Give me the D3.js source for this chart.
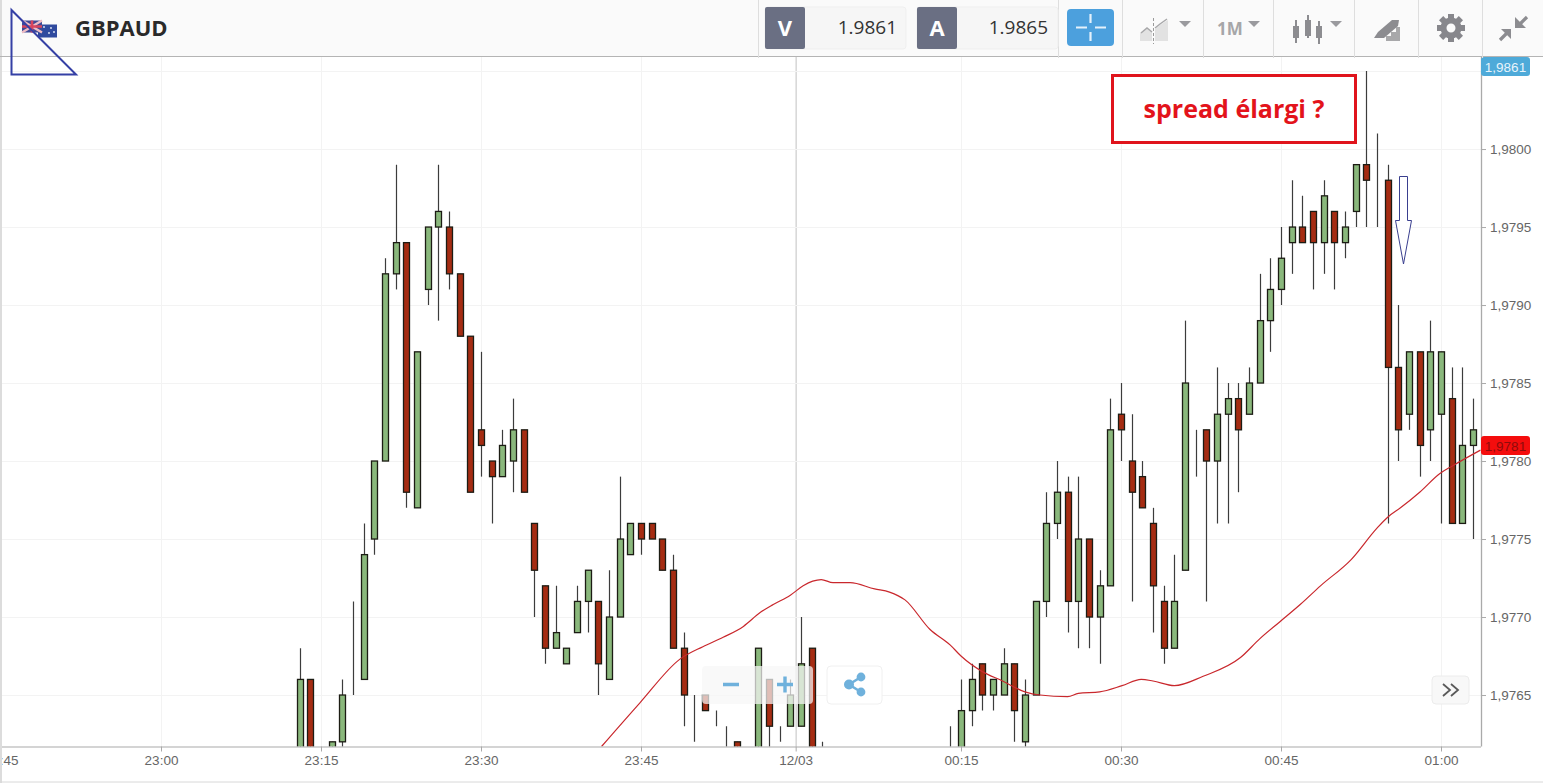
<!DOCTYPE html>
<html><head><meta charset="utf-8">
<script src="https://cdnjs.cloudflare.com/ajax/libs/d3/7.8.5/d3.min.js"></script>
<style>
html,body{margin:0;padding:0;background:#fff;overflow:hidden}
svg{display:block}
text{font-family:"Liberation Sans",Arial,sans-serif}
.os{font-family:"Open Sans",sans-serif}
</style></head><body>
<svg id="c" width="1543" height="783"></svg>
<script>
// Minutes after 23:00; prices in points: 9766 means 1.9766
const candleMinutes=[13,14,16,17,18,19,20,21,22,23,24,25,26,27,28,29,30,31,32,33,34,35,36,37,38,39,40,41,42,43,44,45,46,47,48,49,50,51,52,53,54,56,57,58,59,60,61,62,
74,75,76,77,78,79,80,81,82,83,84,85,86,87,88,89,90,91,92,93,94,95,96,97,98,99,100,101,102,103,104,105,106,107,108,109,110,111,112,113,114,115,116,117,118,119,120,121,122,123];
const candleOpen=[9760,9766,9760,9762,9766,9766,9775,9780,9792,9794,9777,9791,9795,9795,9792,9788,9782,9780,9779,9780,9782,9776,9772,9768,9767,9769,9771,9771,9766,9770,9774,9776,9776,9775,9773,9768,9765,9765,9763,9763,9762,9760,9766,9763,9763,9763,9768,9760,
9760,9760,9764,9767,9765,9765,9767,9762,9765,9771,9776,9778,9771,9775,9770,9772,9783,9780,9779,9776,9771,9768,9773,9782,9782,9780,9783,9784,9783,9785,9789,9791,9794,9795,9796,9794,9796,9794,9796,9799,9798,9798,9786,9783,9787,9782,9783,9784,9776,9781];
const candleClose=[9766,9760,9762,9765,9766,9774,9780,9792,9794,9778,9787,9795,9796,9792,9788,9778,9781,9779,9781,9782,9778,9773,9768,9769,9768,9771,9773,9767,9770,9775,9776,9775,9775,9773,9768,9765,9765,9764,9763,9763,9760,9768,9763,9763,9765,9767,9760,9760,
9760,9764,9766,9765,9766,9767,9764,9765,9771,9776,9778,9771,9775,9770,9772,9782,9782,9778,9777,9772,9768,9771,9785,9782,9780,9783,9784,9782,9785,9789,9791,9793,9795,9794,9794,9797,9794,9795,9799,9798,9798,9786,9782,9787,9781,9787,9787,9776,9781,9782];
const candleHigh=[9768,9766,9762,9766,9771,9776,9780,9793,9799,9794,9787,9795,9799,9796,9792,9788,9787,9780,9782,9784,9782,9776,9772,9772,9768,9772,9773,9771,9773,9779,9776,9776,9776,9775,9774,9769,9765,9765,9764,9763,9762,9768,9766,9763,9766,9770,9768,9762,
9763,9766,9767,9767,9766,9768,9767,9766,9771,9778,9780,9779,9779,9775,9773,9784,9785,9783,9780,9777,9772,9774,9789,9782,9782,9786,9785,9785,9786,9792,9793,9795,9798,9797,9796,9798,9796,9796,9799,9805,9801,9799,9790,9787,9787,9789,9787,9786,9786,9784];
const candleLow=[9760,9760,9760,9761,9765,9766,9774,9780,9791,9777,9777,9790,9789,9791,9788,9778,9779,9776,9779,9778,9778,9770,9767,9768,9767,9769,9769,9765,9766,9770,9774,9774,9775,9773,9768,9763,9762,9764,9763,9760,9760,9760,9760,9762,9763,9763,9760,9760,
9760,9760,9763,9764,9764,9765,9762,9760,9765,9770,9775,9769,9768,9768,9767,9772,9780,9771,9777,9769,9767,9768,9773,9779,9771,9776,9776,9778,9783,9785,9787,9790,9792,9794,9791,9792,9791,9793,9795,9795,9795,9776,9780,9782,9779,9780,9776,9776,9776,9775];
// Moving average
const maMinutes=[41.3,44.9,48.65,50.8,52.7,54.6,56.2,57.4,59,60.2,61.1,61.9,63,64.6,66.9,68.3,69.75,72.1,74,75,77,78.9,81,82.4,85,86,88,90.1,91.9,93,95,97.7,101.2,103,104.9,106.8,108.7,111.6,114,115,116.2,118,119.9,121.1,123.7];
const maValues=[1.97617,1.97645,1.97673,1.97681,1.97687,1.97694,1.97703,1.97708,1.97714,1.9772,1.97723,1.97724,1.97722,1.97722,1.97718,1.97716,1.97711,1.97692,1.97682,1.97675,1.97665,1.97659,1.97652,1.9765,1.97649,1.97651,1.97652,1.97656,1.9766,1.97659,1.97656,1.97662,1.97674,1.97686,1.97697,1.97708,1.9772,1.97737,1.97757,1.97764,1.9777,1.9778,1.97792,1.97797,1.97807];
const timeTicks=[-15,0,15,30,45,59.5,75,90,105,120];
const timeLabels=["22:45","23:00","23:15","23:30","23:45","12/03","00:15","00:30","00:45","01:00"];
const priceTicks=[1.9765,1.977,1.9775,1.978,1.9785,1.979,1.9795,1.98];
const priceGrid=[1.9765,1.977,1.9775,1.978,1.9785,1.979,1.9795,1.98,1.9805];
const instrument="GBPAUD", bid="1.9861", ask="1.9865", lastTag=1.9781;
const note="spread élargi ?";

const svg=d3.select("#c");
const W=1543,H=783,plotTop=57,plotBottom=746.5,plotRight=1481;
const x=d3.scaleLinear().domain([-15,120]).range([1,1441]);
const y=d3.scaleLinear().domain([1.97617,1.98059]).range([plotBottom,plotTop]);
const pr=v=>1+v/10000;

svg.append("rect").attr("width",W).attr("height",H).attr("fill","#fff");
svg.append("defs").append("clipPath").attr("id","plot").append("rect")
  .attr("x",0).attr("y",plotTop).attr("width",plotRight).attr("height",plotBottom-plotTop);

// grid
const grid=svg.append("g");
grid.selectAll("line.v").data(timeTicks).join("line").attr("class","v")
  .attr("x1",d=>x(d)+.5).attr("x2",d=>x(d)+.5).attr("y1",plotTop).attr("y2",plotBottom)
  .attr("stroke",d=>d===59.5?"#d6d6d6":"#f3f3f3").attr("stroke-width",d=>d===59.5?1.5:1);
grid.selectAll("line.h").data(priceGrid).join("line").attr("class","h")
  .attr("x1",0).attr("x2",plotRight).attr("y1",d=>Math.round(y(d))+.5).attr("y2",d=>Math.round(y(d))+.5)
  .attr("stroke","#f3f3f3");

// candles
const candles=candleMinutes.map((m,i)=>({m,o:pr(candleOpen[i]),c:pr(candleClose[i]),h:pr(candleHigh[i]),l:pr(candleLow[i])}));
const plot=svg.append("g").attr("clip-path","url(#plot)");
const px=d=>Math.round(x(d.m));
plot.selectAll("line.w").data(candles).join("line").attr("class","w")
  .attr("x1",d=>px(d)+.5).attr("x2",d=>px(d)+.5).attr("y1",d=>y(d.h)).attr("y2",d=>y(d.l))
  .attr("stroke","#3c3c3c").attr("stroke-width",1.2);
plot.selectAll("rect.b").data(candles).join("rect").attr("class","b")
  .attr("x",d=>px(d)-2.5).attr("width",6)
  .attr("y",d=>y(Math.max(d.o,d.c))).attr("height",d=>Math.abs(y(d.o)-y(d.c)))
  .attr("fill",d=>d.c>=d.o?"#8ab87c":"#a52c12").attr("stroke",d=>d.c===d.o?"#555":"#1c1c14").attr("stroke-width",1.3);
// moving average
plot.append("path").datum(maMinutes.map((m,i)=>[m,maValues[i]]))
  .attr("fill","none").attr("stroke","#c9282d").attr("stroke-width",1.2)
  .attr("d",d3.line().x(d=>x(d[0])).y(d=>y(d[1])).curve(d3.curveMonotoneX));

// axes
const ax=svg.append("g").attr("transform",`translate(0,${plotBottom})`)
  .call(d3.axisBottom(x).tickValues(timeTicks).tickFormat((d,i)=>timeLabels[i]).tickSize(5).tickPadding(4));
ax.select(".domain").attr("d",`M0,0.5H${plotRight}`).attr("stroke","#aaa").attr("stroke-width",1.2);
ax.selectAll("line").attr("stroke","#aaa");
ax.selectAll("text").attr("fill","#666").style("font-size","13.5px").style("font-family",'"Liberation Sans",Arial,sans-serif');
const ay=svg.append("g").attr("transform",`translate(${plotRight},0)`)
  .call(d3.axisRight(y).tickValues(priceTicks).tickFormat(d=>d3.format(".4f")(d).replace(".",",")).tickSize(5).tickPadding(4));
ay.select(".domain").attr("d",`M0.5,${plotTop}V${plotBottom}`).attr("stroke","#aaa").attr("stroke-width",1.3);
ay.selectAll("line").attr("stroke","#aaa");
ay.selectAll("text").attr("fill","#666").style("font-size","13.5px").style("font-family",'"Liberation Sans",Arial,sans-serif');

// page edges
svg.append("rect").attr("x",0).attr("y",0).attr("width",2).attr("height",H).attr("fill","#dcdcdc");
svg.append("line").attr("x1",0).attr("x2",W).attr("y1",782).attr("y2",782).attr("stroke","#d8d8d8");

// price tags
function tag(fill,txt,tcol,yTop){
  svg.append("rect").attr("x",1481).attr("y",yTop).attr("width",49).attr("height",19).attr("rx",3).attr("fill",fill);
  svg.append("text").attr("x",1505.5).attr("y",yTop+14.5).attr("text-anchor","middle").attr("fill",tcol).style("font-size","13.5px").text(txt);
}
tag("#4eaad9","1,9861","#e8f4fb",57);
tag("#f40d0d","1,9781","#8f0b0b",Math.round(y(lastTag))-9);

// header
const hd=svg.append("g");
hd.append("rect").attr("x",2).attr("width",W-2).attr("height",56).attr("fill","#fafafa");
hd.append("line").attr("x1",0).attr("x2",W).attr("y1",56.5).attr("y2",56.5).attr("stroke","#b4b4b4");
hd.selectAll("line.s").data([758,1058,1122,1203,1273,1354,1418,1482]).join("line").attr("class","s")
  .attr("x1",d=>d+.5).attr("x2",d=>d+.5).attr("y1",0).attr("y2",58).attr("stroke","#dedede");
// flags
hd.append("rect").attr("x",38).attr("y",24.5).attr("width",19).attr("height",13).attr("fill","#2f4a9e");
hd.append("rect").attr("x",22).attr("y",20.5).attr("width",20).attr("height",12).attr("fill","#3f4a96");
hd.append("path").attr("d","M22,20.5L42,32.5M42,20.5L22,32.5").attr("stroke","#eebcc4").attr("stroke-width",2.4);
hd.append("path").attr("d","M32,20.5V32.5M22,26.5H42").attr("stroke","#d8455e").attr("stroke-width",2.6);
hd.selectAll("circle.st").data([[44,27],[51,28],[49,33],[54,32]]).join("circle").attr("class","st")
  .attr("cx",d=>d[0]).attr("cy",d=>d[1]).attr("r",.9).attr("fill","#e6ecf8");
hd.append("text").attr("class","os").attr("x",75).attr("y",36).attr("fill","#2a2a2a").style("font-size","22px").style("font-weight","700").text(instrument);
// bid / ask
[[765,906,"V",bid,897],[917,1058,"A",ask,1048]].forEach(([a,b,l,v,tx])=>{
  hd.append("rect").attr("x",a).attr("y",7).attr("width",b-a).attr("height",42).attr("rx",3).attr("fill","#f6f6f6").attr("stroke","#efefef");
  hd.append("rect").attr("x",a).attr("y",7).attr("width",40).attr("height",42).attr("rx",2).attr("fill","#6a6f83");
  hd.append("text").attr("class","os").attr("x",a+20).attr("y",36).attr("text-anchor","middle").attr("fill","#fff").style("font-size","22px").style("font-weight","700").text(l);
  hd.append("text").attr("class","os").attr("x",tx).attr("y",34).attr("text-anchor","end").attr("fill","#333").style("font-size","19px").text(v);
});
// crosshair button
hd.append("rect").attr("x",1067).attr("y",9).attr("width",47).attr("height",37).attr("rx",4).attr("fill","#4ca0dd");
hd.append("path").attr("d","M1076,27.5H1087M1095,27.5H1106M1090.5,14V23M1090.5,32V41").attr("stroke","#e4f1fb").attr("stroke-width",2.2);
// carets
hd.selectAll("path.car").data([1185,1254,1336]).join("path").attr("class","car")
  .attr("d",d=>`M${d-6},21H${d+6}L${d},27Z`).attr("fill","#9a9a9e");
// chart type
hd.append("path").attr("d","M1140,41V33L1147,28L1152,32V41ZM1155,41V29L1160,25L1168,20V41Z").attr("fill","#e2e2e2");
hd.append("path").attr("d","M1141,33L1147,28L1152,32M1155,28L1160,24L1167,19").attr("fill","none").attr("stroke","#a8a8aa").attr("stroke-width",1.5);
hd.append("path").attr("d","M1153.5,18V44").attr("stroke","#9a9a9a").attr("stroke-dasharray","3 2");
// 1M
hd.append("text").attr("class","os").attr("x",1217).attr("y",35).attr("fill","#a6a6a8").style("font-size","17px").style("font-weight","700").text("1M");
// candle icon
hd.selectAll("rect.ci").data([[1293,26,12],[1305,20,16],[1316,26,12]]).join("rect").attr("class","ci")
  .attr("x",d=>d[0]).attr("y",d=>d[1]).attr("width",6).attr("height",d=>d[2]).attr("fill","#8c8c90");
hd.append("path").attr("d","M1296,20V43M1308,15V38M1319,21V44").attr("stroke","#8c8c90").attr("stroke-width",2);
// drawing tool icon
hd.append("path").attr("d","M1374,38L1378,32L1392,20L1399,20L1398,26L1384,38Z").attr("fill","#8c8c90");
hd.append("path").attr("d","M1386,41V36H1391V32H1396V27H1400V41Z").attr("fill","#a8a8aa");
// gear
const gear=hd.append("g").attr("transform","translate(1451,28)");
d3.range(8).forEach(i=>gear.append("rect").attr("x",-3).attr("y",-14).attr("width",6).attr("height",7).attr("fill","#87878c").attr("transform",`rotate(${i*45})`));
gear.append("circle").attr("r",7.5).attr("fill","none").attr("stroke","#87878c").attr("stroke-width",6);
// compress
hd.append("path").attr("d","M1515,17V28H1526Z").attr("fill","#8c8c90");
hd.append("path").attr("d","M1527,17L1519,25M1500,40L1507,33").attr("stroke","#8c8c90").attr("stroke-width",3.2);
hd.append("path").attr("d","M1501,29H1511V39Z").attr("fill","#8c8c90");

// hand-drawn annotations
svg.append("path").attr("d","M11.5,10V74.5H76Z").attr("fill","none").attr("stroke","#3540a5").attr("stroke-width",2);
svg.append("rect").attr("x",1112.5).attr("y",75.5).attr("width",243).attr("height",67).attr("fill","#fff").attr("stroke","#e0141c").attr("stroke-width",3);
svg.append("text").attr("class","os").attr("x",1234).attr("y",118).attr("text-anchor","middle").attr("fill","#e3131b").style("font-size","25px").style("font-weight","700").text(note);
svg.append("path").attr("d","M1399.5,176.5H1407.5V220.5H1411.5L1403.5,264L1395.5,220.5H1399.5Z").attr("fill","#fff").attr("stroke","#3a3f8f").attr("stroke-width",1);

// zoom controls
const zc=svg.append("g");
zc.append("rect").attr("x",702).attr("y",666).attr("width",111).attr("height",38).attr("rx",4).attr("fill","#f6f6f6").attr("fill-opacity",.72);
zc.append("rect").attr("x",827).attr("y",666).attr("width",55).attr("height",38).attr("rx",4).attr("fill","#fff").attr("stroke","#f0f0f0");
zc.append("path").attr("d","M723,684.5H739M777,684.5H793M785,676.5V692.5").attr("stroke","#6fb1dc").attr("stroke-width",3.4);
zc.append("path").attr("d","M861,677L849,684.5L861,692").attr("fill","none").attr("stroke","#6fb1dc").attr("stroke-width",2.6);
zc.selectAll("circle").data([[861,677,4.4],[849,684.5,5],[861,692,4.4]]).join("circle")
  .attr("cx",d=>d[0]).attr("cy",d=>d[1]).attr("r",d=>d[2]).attr("fill","#6fb1dc");
// collapse button
zc.append("rect").attr("x",1432).attr("y",676).attr("width",37).attr("height",28).attr("rx",4).attr("fill","#f8f8f8").attr("stroke","#ececec");
zc.append("path").attr("d","M1443,684L1450,690L1443,696M1451,684L1458,690L1451,696").attr("fill","none").attr("stroke","#5a5a5a").attr("stroke-width",1.8);
</script>
</body></html>
